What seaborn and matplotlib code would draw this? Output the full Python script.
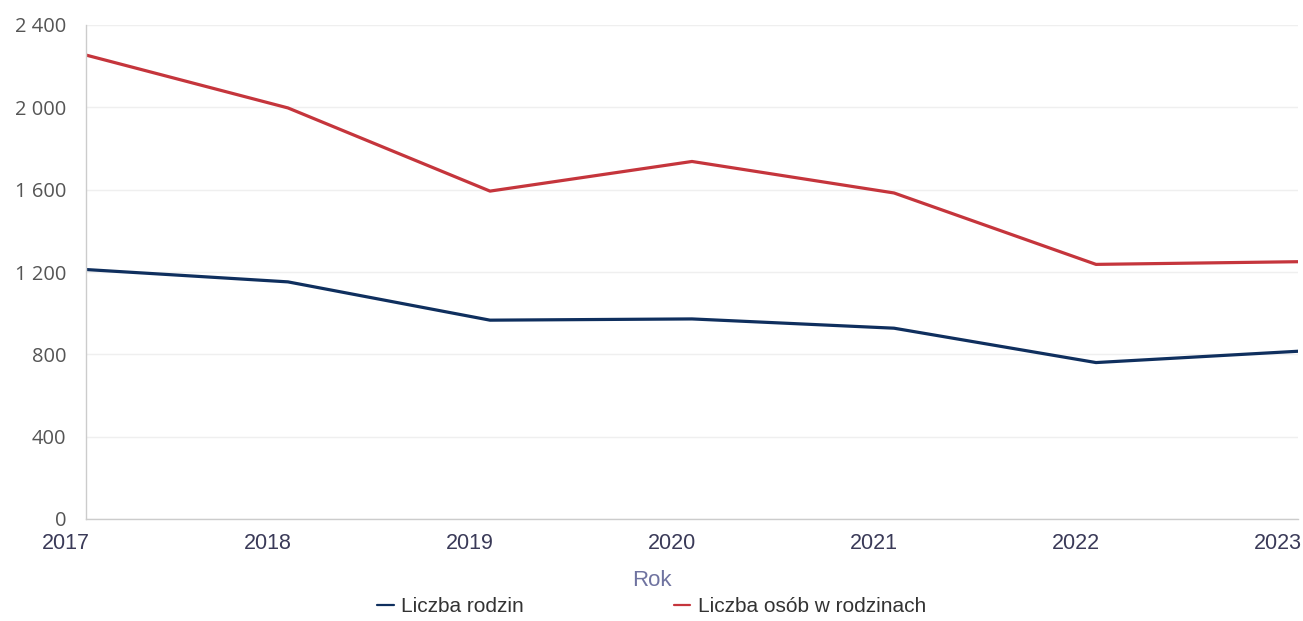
import pandas as pd
import matplotlib
matplotlib.use('Agg')
import matplotlib.pyplot as plt
import matplotlib.transforms as mtransforms
from matplotlib.ticker import FuncFormatter, MultipleLocator
import seaborn as sns

# dane
lata = [2017, 2018, 2019, 2020, 2021, 2022, 2023]
liczba_rodzin = [1212, 1152, 966, 972, 927, 760, 815]
liczba_osob = [2254, 1997, 1593, 1737, 1584, 1237, 1250]
serie = ['Liczba rodzin', 'Liczba osób w rodzinach']
kolory = {'Liczba rodzin': '#0f2f5e', 'Liczba osób w rodzinach': '#c5353c'}

df = pd.DataFrame({
    'Rok': lata * 2,
    'Wartość': liczba_rodzin + liczba_osob,
    'Seria': [serie[0]] * len(lata) + [serie[1]] * len(lata),
})

sns.set_theme(style="white")
plt.rcParams['font.family'] = ['Liberation Sans', 'DejaVu Sans']

fig = plt.figure(figsize=(13.03, 6.21), dpi=100)
ax = fig.add_axes([86 / 1303, 1 - 519 / 621, (1298 - 86) / 1303, (519 - 25) / 621])

sns.lineplot(data=df, x='Rok', y='Wartość', hue='Seria', palette=kolory,
             linewidth=2.3, ax=ax, legend=False)

ax.set_xlim(2017, 2023)
ax.set_ylim(0, 2400)
ax.yaxis.set_major_locator(MultipleLocator(400))
ax.yaxis.set_major_formatter(FuncFormatter(lambda v, p: f'{int(v):,}'.replace(',', ' ')))
ax.set_xticks(lata)
ax.set_xticklabels([str(r) for r in lata])

ax.grid(axis='y', color='#efefef', linewidth=1)
ax.grid(axis='x', visible=False)
for s in ['top', 'right']:
    ax.spines[s].set_visible(False)
for s in ['left', 'bottom']:
    ax.spines[s].set_color('#cccccc')
    ax.spines[s].set_linewidth(1)

ax.tick_params(axis='y', length=0, pad=14, labelsize=14.5, labelcolor='#555555')
ax.tick_params(axis='x', length=0, pad=10, labelsize=15.5, labelcolor='#3a3a58')
for lab in ax.get_yticklabels():
    lab.set_family(['Open Sans', 'DejaVu Sans'])

# etykiety lat przesunięte w lewo jak w oryginale
przes = mtransforms.ScaledTranslation(-20 / 100, 0, fig.dpi_scale_trans)
for lab in ax.get_xticklabels():
    lab.set_transform(lab.get_transform() + przes)

ax.set_xlabel('Rok', fontsize=16, color='#6f73a0', va='center')
ax.xaxis.set_label_coords(0.5, 1 - 581 / 621, transform=fig.transFigure)
ax.set_ylabel('')

uchwyty = [plt.Line2D([], [], color=kolory[s], linewidth=1.6) for s in serie]
fig.legend(uchwyty, serie, loc='center', bbox_to_anchor=(0.5, 1 - 607 / 621),
           ncol=2, frameon=False, fontsize=15, handlelength=0.8, handletextpad=0.35,
           columnspacing=7.2, labelcolor='#333333')

plt.savefig('out.png', dpi=100)
